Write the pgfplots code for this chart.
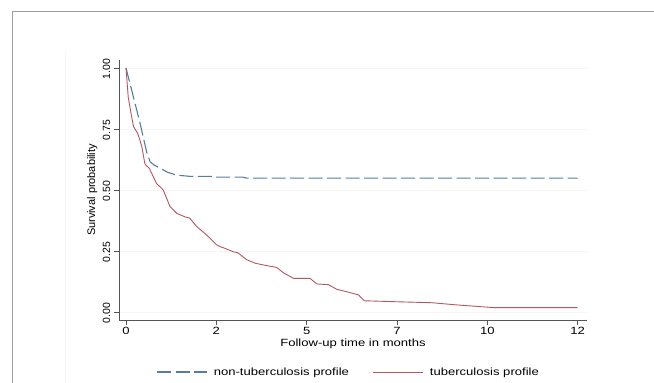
\documentclass[border=0pt]{standalone}
\usepackage{fontspec}
\setmainfont[FakeStretch=1.25]{Liberation Sans}
\newfontfamily\vfont{Liberation Sans}
\usepackage{pgfplots}
\pgfplotsset{compat=1.18}
\definecolor{nontb}{RGB}{86,124,160}
\definecolor{tb}{RGB}{178,88,96}
\definecolor{axgray}{RGB}{85,85,85}
\begin{document}
\fontsize{10.5}{12}\selectfont
\begin{tikzpicture}
\useasboundingbox (0bp,0bp) rectangle (654bp,383bp);
\draw[gray!75, line width=0.8bp] (12bp,0bp) -- (12bp,372bp) -- (654bp,372bp);
\draw[gray!7, line width=0.6bp] (65bp,0bp) -- (65bp,333bp);
\begin{axis}[
  at={(119bp,63bp)}, anchor=south west,
  scale only axis, width=468bp, height=260bp,
  xmin=-0.186, xmax=12.25, ymin=-0.0328, ymax=1.033,
  axis x line*=bottom, axis y line*=left,
  axis line style={axgray, line width=0.8bp},
  every tick/.style={axgray, line width=0.8bp},
  tick align=outside, major tick length=5bp,
  xtick={0,2.4,4.8,7.2,9.6,12},
  xticklabels={0,2,5,7,10,12},
  ytick={0,0.25,0.5,0.75,1},
  yticklabels={0.00,0.25,0.50,0.75,1.00},
  /pgf/number format/assume math mode=true,
  xticklabel style={font=\fontsize{10.5}{12}\selectfont, yshift=1bp},
  yticklabel style={font=\vfont\fontsize{10.5}{12}\selectfont, rotate=90, anchor=south, xshift=-1bp},
  ymajorgrids, grid style={gray!8, line width=0.6bp},
  xlabel={Follow-up time in months},
  ylabel={\vfont\fontsize{11}{12}\selectfont Survival probability},
  xlabel style={at={(0.5,0)}, anchor=north, yshift=-15bp, font=\fontsize{10.5}{12}\selectfont},
  ylabel style={at={(0,0.5)}, anchor=south, rotate=0, yshift=18bp},
  legend columns=2,
  legend style={draw=none, fill=none, at={(0.491,-0.2)}, anchor=center,
    font=\fontsize{10.5}{12}\selectfont,
    /tikz/every odd column/.append style={column sep=4bp},
    /tikz/every even column/.append style={column sep=22bp}},
  legend image code/.code={\draw[#1] (0bp,0bp) -- (50bp,0bp);},
  clip=false,
]
\addplot[nontb, line width=1.1bp, dash pattern=on 14bp off 4.5bp] coordinates {
(0,1.0) (0.15,0.91) (0.37,0.776) (0.55,0.655) (0.64,0.616) (0.75,0.602) (0.9,0.59)
(1.1,0.573) (1.35,0.561) (1.7,0.556) (2.3,0.556) (2.4,0.553) (3.1,0.553) (3.2,0.549) (12,0.549)
};
\addlegendentry{non-tuberculosis profile}
\addplot[tb, line width=0.9bp] coordinates {
(0,1.0) (0.06,0.88) (0.15,0.80) (0.2,0.76) (0.31,0.732) (0.37,0.705) (0.42,0.678)
(0.5,0.609) (0.53,0.602) (0.62,0.589) (0.81,0.527) (0.99,0.5) (1.17,0.432)
(1.35,0.404) (1.57,0.39) (1.69,0.385) (1.88,0.35) (2.14,0.316) (2.41,0.275)
(2.5,0.268) (2.63,0.261) (2.85,0.247) (2.97,0.243) (3.2,0.215) (3.43,0.20)
(3.74,0.19) (4.0,0.183) (4.18,0.161) (4.45,0.138) (4.89,0.138) (5.07,0.115)
(5.38,0.112) (5.6,0.093) (5.87,0.083) (6.18,0.07) (6.33,0.046) (7.2,0.042)
(8.13,0.038) (8.79,0.029) (9.77,0.018) (12,0.018)
};
\addlegendentry{tuberculosis profile}
\end{axis}
\end{tikzpicture}
\end{document}
